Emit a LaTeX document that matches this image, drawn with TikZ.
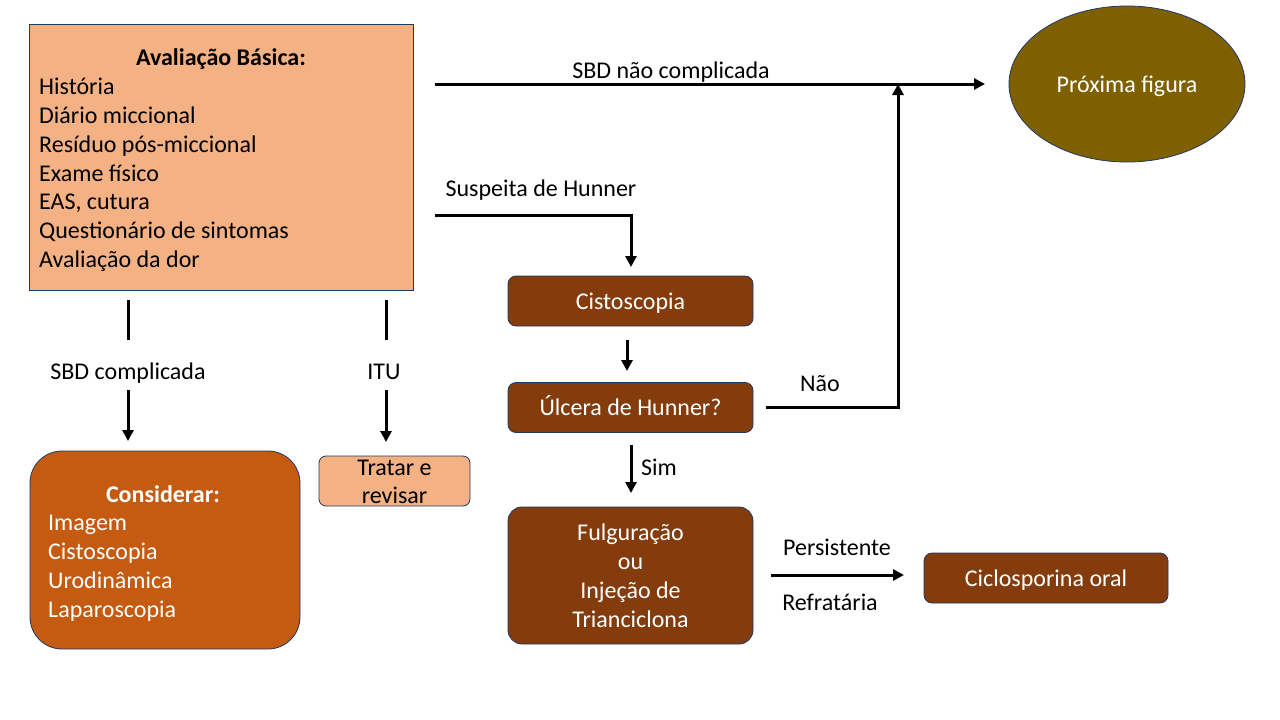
\documentclass[tikz,border=0pt]{standalone}
\usepackage{fontspec}
\setmainfont{Carlito}
\usetikzlibrary{arrows.meta,shapes.geometric}
\definecolor{peach}{HTML}{F4B183}
\definecolor{brownbox}{HTML}{843C0C}
\definecolor{orangebox}{HTML}{C55A11}
\definecolor{olivebox}{HTML}{7F6000}
\definecolor{navy}{HTML}{1F3864}
\tikzset{
  fnt/.style={font=\fontsize{24}{29}\selectfont},
  strut/.style={text height=19pt, text depth=3pt},
  txt/.style={fnt, inner sep=0pt, strut},
  item/.style={txt, anchor=west},
  box/.style={draw=navy, line width=0.8pt, minimum width=245pt, minimum height=50pt, inner sep=0pt},
  brownbase/.style={box, fill=brownbox, rounded corners=8pt, text=white, fnt},
  brown/.style={brownbase, strut},
  conn/.style={line width=3pt, -{Triangle[length=11pt,width=11pt]}},
  plain/.style={line width=3pt},
}
\begin{document}
\begin{tikzpicture}[x=1pt,y=-1pt]
\useasboundingbox[fill=white] (0,0) rectangle (1280,720);

% Basic evaluation box
\node[box, fill=peach, minimum width=384pt, minimum height=266pt] (basic) at (221,157) {};
\node[txt, font=\fontsize{24}{29}\selectfont\bfseries] (basictitle) at (221,57) {Avaliação Básica:};
\node[item] (b1) at (39,86) {História};
\node[item] (b2) at (39,115) {Diário miccional};
\node[item] (b3) at (39,144) {Resíduo pós-miccional};
\node[item] (b4) at (39,173) {Exame físico};
\node[item] (b5) at (39,201) {EAS, cutura};
\node[item] (b6) at (39,230) {Questionário de sintomas};
\node[item] (b7) at (39,259) {Avaliação da dor};

% Ellipse
\node[ellipse, draw=navy, line width=0.8pt, fill=olivebox, minimum width=236pt, minimum height=156pt, text=white, fnt, strut, inner sep=0pt] (next) at (1127,84) {Próxima figura};

% Brown boxes
\node[brown] (cisto) at (630.5,301) {Cistoscopia};
\node[brown] (ulcera) at (630.5,407.5) {Úlcera de Hunner?};
\node[brownbase, minimum height=137pt, align=center, rounded corners=14pt] (fulg) at (630.5,575.5) {Fulguração\\ou\\Injeção de\\Trianciclona};
\node[brown, minimum width=244pt] (ciclo) at (1046,578) {Ciclosporina oral};

% Considerar
\node[box, fill=orangebox, minimum width=270pt, minimum height=198pt, rounded corners=32pt] (consid) at (165,550) {};
\node[txt, text=white, font=\fontsize{24}{29}\selectfont\bfseries] (considtitle) at (163,494) {Considerar:};
\node[item, text=white] (k1) at (48,522) {Imagem};
\node[item, text=white] (k2) at (48,551) {Cistoscopia};
\node[item, text=white] (k3) at (48,580) {Urodinâmica};
\node[item, text=white] (k4) at (48,609) {Laparoscopia};

% Tratar e revisar
\node[box, fill=peach, minimum width=151pt, minimum height=50pt, rounded corners=7pt] (tratar) at (394.5,481) {};
\node[txt] (tratar1) at (394.5,467) {Tratar e};
\node[txt] (tratar2) at (394.5,495) {revisar};

% Coordinates for connector ends
\coordinate (a1) at (435,84);
\coordinate (a2) at (985,84);
\coordinate (h1) at (435,215);
\coordinate (h2) at (631,215);
\coordinate (h3) at (631,267);
\coordinate (c1) at (627,340);
\coordinate (c2) at (627,371);
\coordinate (n1) at (766,407);
\coordinate (n2) at (898,407);
\coordinate (n3) at (898,84);
\coordinate (s1) at (631,445);
\coordinate (s2) at (631,493);
\coordinate (p1) at (771,575);
\coordinate (p2) at (904,575);
\coordinate (l1) at (128,300);
\coordinate (l2) at (128,340);
\coordinate (l3) at (128,390);
\coordinate (l4) at (128,441);
\coordinate (i1) at (386,300);
\coordinate (i2) at (386,340);
\coordinate (i3) at (386,390);
\coordinate (i4) at (386,442);

% Connectors
\draw[conn] (a1) -- (a2);
\draw[conn] (h1) -- (h2) -- (h3);
\draw[conn] (c1) -- (c2);
\draw[conn] (n1) -- (n2) -- (n3);
\draw[conn] (s1) -- (s2);
\draw[conn] (p1) -- (p2);
\draw[plain] (l1) -- (l2);
\draw[conn] (l3) -- (l4);
\draw[plain] (i1) -- (i2);
\draw[conn] (i3) -- (i4);

% Labels
\node[txt] (lab1) at (671,70) {SBD não complicada};
\node[txt] (lab2) at (541,188) {Suspeita de Hunner};
\node[txt] (lab3) at (820,383) {Não};
\node[txt] (lab4) at (659,467) {Sim};
\node[txt] (lab5) at (837,547) {Persistente};
\node[txt] (lab6) at (830,602) {Refratária};
\node[txt] (lab7) at (128,371) {SBD complicada};
\node[txt] (lab8) at (384,371) {ITU};
\end{tikzpicture}
\end{document}
